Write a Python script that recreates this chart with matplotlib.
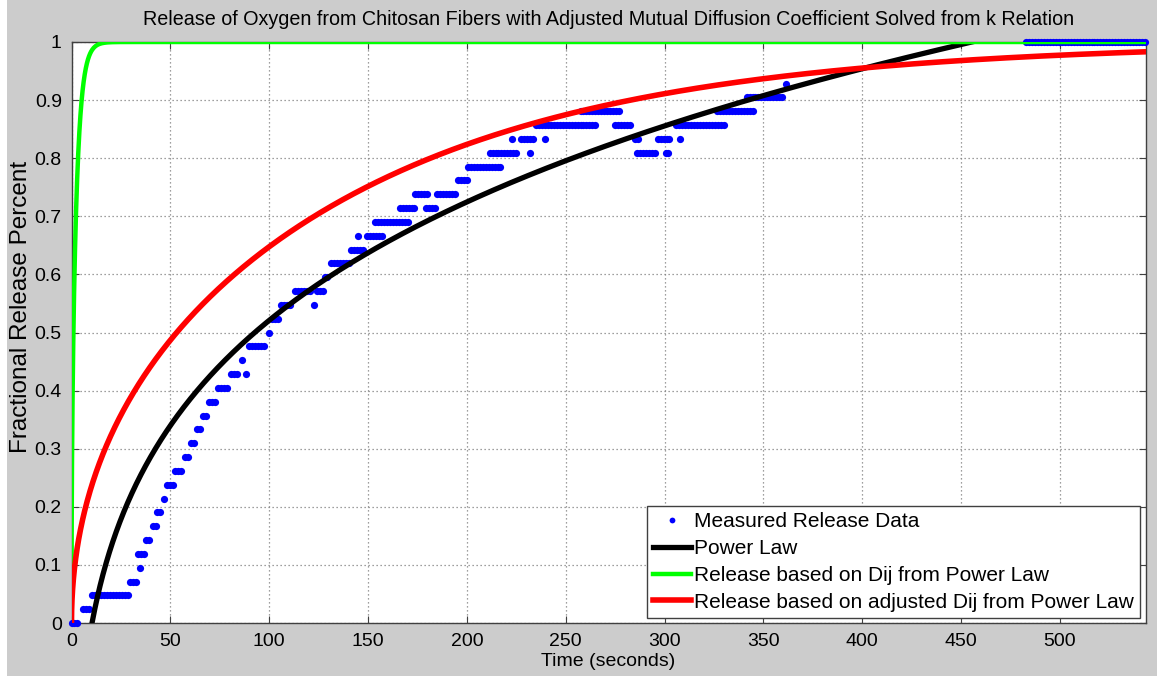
import numpy as np
import matplotlib
matplotlib.use("Agg")
import matplotlib.pyplot as plt

plt.rcParams['font.family'] = ['Liberation Sans', 'DejaVu Sans']

# ---------------- data ----------------
title = ("Release of Oxygen from Chitosan Fibers with Adjusted Mutual "
         "Diffusion Coefficient Solved from k Relation")
x_label = "Time (seconds)"
y_label = "Fractional Release Percent"
legend_labels = ["Measured Release Data", "Power Law",
                 "Release based on Dij from Power Law",
                 "Release based on adjusted Dij from Power Law"]

x_ticks = [0, 50, 100, 150, 200, 250, 300, 350, 400, 450, 500]
y_ticks = [0, 0.1, 0.2, 0.3, 0.4, 0.5, 0.6, 0.7, 0.8, 0.9, 1.0]
y_tick_labels = ["0", "0.1", "0.2", "0.3", "0.4", "0.5", "0.6", "0.7",
                 "0.8", "0.9", "1"]
t_end = 543.3

# measured release: runs of readings at a constant level
# (level = released count out of 42, sampled every 1.5 s)
sample_step = 1.5
levels_total = 42
run_start = [0, 6, 10.5, 29.5, 34.5, 33.5, 37.5, 41, 43.5, 47, 48.5, 52.5,
             57.5, 60.5, 63.5, 66.5, 69.5, 74, 80.5, 86, 88.5, 90, 100,
             101.5, 106, 113, 122.5, 124, 128, 131.5, 141.5, 145, 149.5,
             153.5, 166, 179.5, 174, 185, 195.5, 200.5, 211.5, 232, 223,
             227.5, 239.5, 235, 257.5, 275, 285, 286, 296.5, 300.5, 308,
             306, 326.5, 341.5, 361.5, 483]
run_end = [3, 9, 28.5, 32.5, 34.5, 36.5, 39, 42.5, 45, 47, 51.5, 55.5,
           59, 62, 65, 68, 72.5, 78.5, 83.5, 86, 88.5, 98, 100,
           104.5, 110.5, 121, 122.5, 127, 130.5, 140.5, 148, 145, 158,
           170, 173.5, 184, 180, 194, 200, 218, 225.5, 232, 223,
           234.5, 239.5, 265.5, 278, 283.5, 287, 295, 303, 302, 308,
           330.5, 345, 360, 362.5, 543]
run_level = [0, 1, 2, 3, 4, 5, 6, 7, 8, 9, 10, 11,
             12, 13, 14, 15, 16, 17, 18, 19, 18, 20, 21,
             22, 23, 24, 23, 24, 25, 26, 27, 28, 28,
             29, 30, 30, 31, 31, 32, 33, 34, 34, 35,
             35, 35, 36, 37, 36, 35, 34, 35, 34, 35,
             36, 37, 38, 39, 42]

# power law fit  F = k * t**n + c
pl_k, pl_n, pl_c = 0.745, 0.17, -1.109
# diffusion release from a cylinder, rate D/a^2 (1/s)
rate_dij = 0.065
rate_adjusted = 0.00118

# ---------------- computations ----------------
meas_t, meas_f = [], []
for s, e, lv in zip(run_start, run_end, run_level):
    ts = np.arange(s, e + 1e-6, sample_step)
    meas_t.extend(ts)
    meas_f.extend([lv / levels_total] * len(ts))
meas_t = np.array(meas_t)
meas_f = np.array(meas_f)

t = np.unique(np.concatenate([np.linspace(0, 4, 800),
                              np.linspace(0, t_end, 3000)]))
power_law = pl_k * t ** pl_n + pl_c

# zeros of J0 (McMahon expansion)
n = np.arange(1, 1201)
b = (n - 0.25) * np.pi
alpha = b + 1 / (8 * b) - 124 / (3 * (8 * b) ** 3) + 120928 / (15 * (8 * b) ** 5)


def cylinder_release(rate):
    terms = (4 / alpha ** 2)[None, :] * np.exp(-np.outer(t, alpha ** 2) * rate)
    return 1 - terms.sum(axis=1)


rel_dij = cylinder_release(rate_dij)
rel_adj = cylinder_release(rate_adjusted)

# ---------------- figure ----------------
W, H = 1157, 676
fig = plt.figure(figsize=(W / 100, H / 100), dpi=100, facecolor='#cccccc')
ax_l, ax_r, ax_t, ax_b = 71.5, 1145.5, 42, 623
ax = fig.add_axes([ax_l / W, (H - ax_b) / H, (ax_r - ax_l) / W, (ax_b - ax_t) / H])
ax.set_facecolor('white')

ax.plot(meas_t, meas_f, 'o', color='#0000ff', ms=5.2, mew=0, clip_on=False,
        label=legend_labels[0], zorder=3)
ax.plot(t, power_law, color='black', lw=3.8, label=legend_labels[1], zorder=4)
ax.plot(t, rel_dij, color='#00ff00', lw=3.2, label=legend_labels[2], zorder=5)
ax.plot(t, rel_adj, color='#ff0000', lw=4.0, label=legend_labels[3], zorder=6)

ax.set_xlim(0, t_end)
ax.set_ylim(0, 1)
ax.set_xticks(x_ticks)
ax.set_yticks(y_ticks, y_tick_labels)
ax.tick_params(direction='in', top=True, right=True, length=5, width=0.8,
               color='#404040', labelsize=14, labelcolor='black', pad=7)
ax.grid(True, color='#808080', linestyle=(0, (1, 2.2)), linewidth=0.9)
for sp in ax.spines.values():
    sp.set_color('#404040')
    sp.set_linewidth(1.0)

ax.set_title(title, fontsize=14.2, pad=12)
ax.set_xlabel(x_label, fontsize=14)
ax.xaxis.label.set_va('center')
ax.xaxis.set_label_coords(0.5, -(662 - ax_b) / (ax_b - ax_t))
ax.set_ylabel(y_label, fontsize=17.5)
ax.yaxis.label.set_va('center')
ax.yaxis.set_label_coords((21 - ax_l) / (ax_r - ax_l), (ax_b - 307) / (ax_b - ax_t))

leg = ax.legend(loc='lower right',
                bbox_to_anchor=((1140 - ax_l) / (ax_r - ax_l), (ax_b - 618) / (ax_b - ax_t)),
                borderaxespad=0, fontsize=15, frameon=True, fancybox=False,
                framealpha=1, edgecolor='#404040', handlelength=1.8,
                handletextpad=0.15, labelspacing=0.38, borderpad=0.3,
                markerscale=0.8)
leg.get_frame().set_linewidth(1.0)
leg.set_zorder(10)

# thin white strip at the left edge of the canvas
fig.patches.append(plt.Rectangle((0, 0), 7 / W, 1, transform=fig.transFigure,
                                 facecolor='white', edgecolor='none'))

fig.savefig('out.png', dpi=100, facecolor=fig.get_facecolor())
